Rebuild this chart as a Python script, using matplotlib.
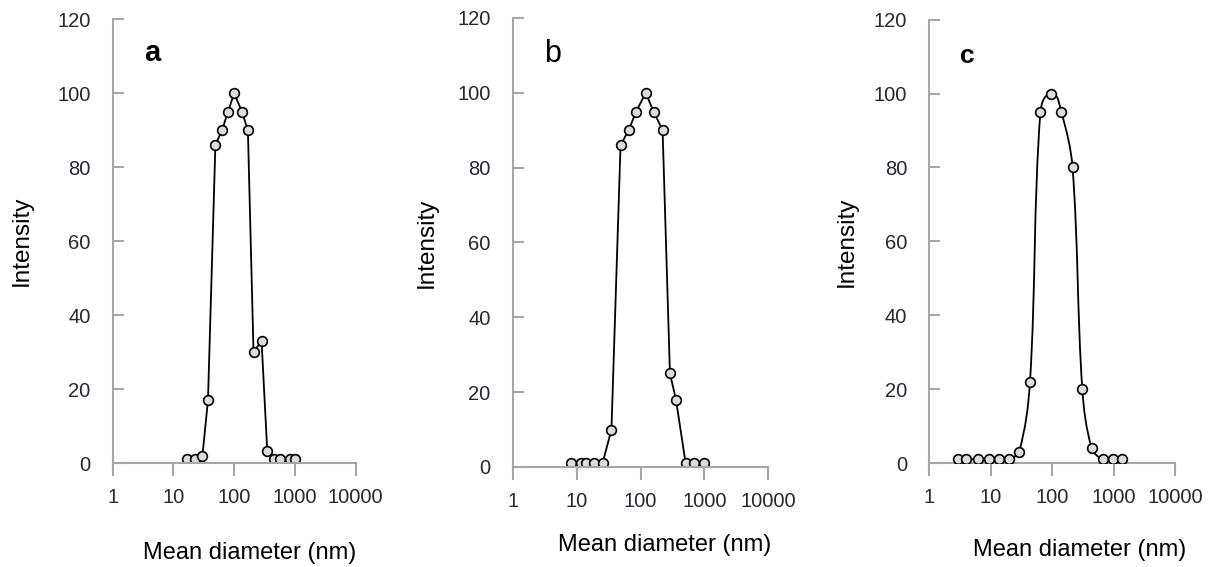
import matplotlib.pyplot as plt
import numpy as np
from matplotlib.path import Path
from matplotlib.patches import PathPatch

plt.rcParams['font.family'] = ['Liberation Sans', 'DejaVu Sans']

# size distributions (diameter in nm, intensity)
diam_a = [17, 23, 30, 37, 49, 63, 79, 100, 134, 168, 208, 282, 350, 445, 566, 838, 1000]
inten_a = [1, 1, 2, 17, 86, 90, 95, 100, 95, 90, 30, 33, 3.3, 1, 1, 1, 1]

diam_b = [8.1, 11.6, 13.9, 19, 25.4, 35, 48.6, 65, 85.5, 120, 160, 221, 288, 358, 507, 685, 1000]
inten_b = [1, 1, 1, 1, 1, 10, 86, 90, 95, 100, 95, 90, 25, 18, 1, 1, 1]

diam_c = [2.9, 3.9, 6.2, 9.3, 13.9, 19.7, 29, 43.6, 64.4, 97.5, 141, 215, 310, 441, 661, 963, 1390]
inten_c = [1, 1, 1, 1, 1, 1, 3, 22, 95, 100, 95, 80, 20, 4, 1, 1, 1]

panel_labels = ['a', 'b', 'c']
xticks = [1, 10, 100, 1000, 10000]
yticks = [0, 20, 40, 60, 80, 100, 120]

SPINE = '#a6a6a6'
TEXT = '#262636'


def smooth_path(x, y, sx=61.0, sy=3.7, k=0.35):
    # bezier through the points; tangents from neighbours, handle length
    # from chord length, worked out in roughly pixel-scaled log space
    u = np.log10(x) * sx
    w = np.asarray(y, dtype=float) * sy
    n = len(u)
    P = np.column_stack([u, w])
    tang = []
    for i in range(n):
        a = P[max(i - 1, 0)]
        b = P[min(i + 1, n - 1)]
        t = b - a
        tang.append(t / np.hypot(*t))
    verts = [(x[0], y[0])]
    codes = [Path.MOVETO]
    for i in range(n - 1):
        d = np.hypot(*(P[i + 1] - P[i]))
        c1 = P[i] + tang[i] * d * k
        c2 = P[i + 1] - tang[i + 1] * d * k
        for c in (c1, c2):
            verts.append((10 ** (c[0] / sx), c[1] / sy))
        verts.append((x[i + 1], y[i + 1]))
        codes += [Path.CURVE4] * 3
    return Path(verts, codes)


fig = plt.figure(figsize=(12.32, 5.67), dpi=100)

boxes = [
    [0.0915, 0.1834, 0.1972, 0.7825],
    [0.4162, 0.1764, 0.2075, 0.7919],
    [0.7543, 0.1834, 0.1994, 0.7818],
]
letter_pos = [(0.162, 0.924), (0.154, 0.92), (0.153, 0.918)]
letter_style = [(21, 'bold'), (22, 'normal'), (19, 'bold')]
ylab_x = [-0.33, -0.295, -0.29]
xlab_pos = [(0.565, -0.203), (0.596, -0.174), (0.613, -0.196)]

series = [(diam_a, inten_a), (diam_b, inten_b), (diam_c, inten_c)]

for k, (d, v) in enumerate(series):
    ax = fig.add_axes(boxes[k])
    ax.set_xscale('log')
    ax.set_xlim(1, 10000)
    ax.set_ylim(0, 120)

    if k == 2:
        ax.add_patch(PathPatch(smooth_path(d, v), facecolor='none',
                               edgecolor='black', lw=1.3, zorder=2))
        ax.plot(d, v, ls='none', marker='o', ms=7, mfc='#dcdcdc',
                mec='black', mew=1.2, zorder=3)
    else:
        ax.plot(d, v, color='black', lw=1.3, marker='o', ms=7,
                mfc='#dcdcdc', mec='black', mew=1.2)

    ax.set_xticks(xticks)
    ax.set_xticklabels([str(t) for t in xticks])
    ax.xaxis.set_minor_locator(plt.NullLocator())
    ax.set_yticks(yticks)

    for s in ['top', 'right']:
        ax.spines[s].set_visible(False)
    for s in ['left', 'bottom']:
        ax.spines[s].set_color(SPINE)
        ax.spines[s].set_linewidth(1.5)

    ax.tick_params(axis='x', direction='out', length=9, width=1.5,
                   color=SPINE, pad=9, labelsize=14.5, labelcolor=TEXT)
    ax.tick_params(axis='y', direction='in', length=8, width=1.5,
                   color=SPINE, pad=16, labelsize=14.5, labelcolor=TEXT)

    ax.set_ylabel('Intensity', fontsize=17.5)
    ax.yaxis.set_label_coords(ylab_x[k], 0.5)
    ax.set_xlabel('Mean diameter (nm)', fontsize=17, va='center')
    ax.xaxis.set_label_coords(*xlab_pos[k])

    ax.text(letter_pos[k][0], letter_pos[k][1], panel_labels[k],
            transform=ax.transAxes, fontsize=letter_style[k][0],
            fontweight=letter_style[k][1], ha='center', va='center')

fig.savefig('out.png', dpi=100)
plt.close()
